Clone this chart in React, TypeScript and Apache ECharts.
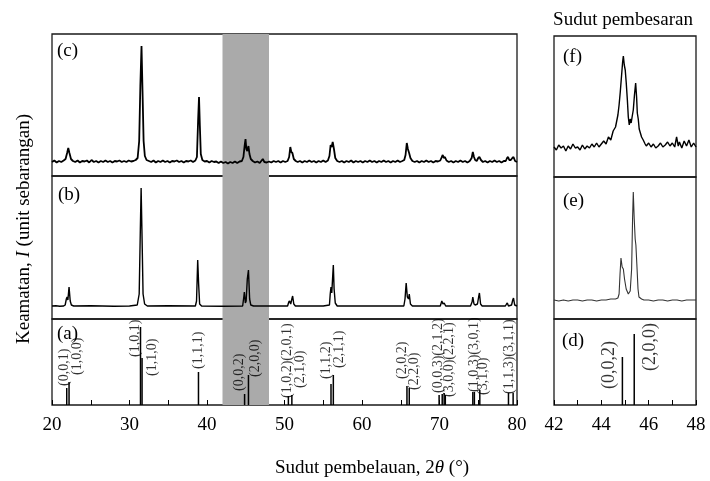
import React, { useEffect, useRef } from "react";
import * as echarts from "echarts";

// ---- Data ----
// Panel (c): measured pattern, 2θ vs intensity (arbitrary units)
const PATTERN_C: [number, number][] = [
  [20.0,14],[20.3,15.5],[20.6,13.5],[20.9,15],[21.2,14],[21.5,15.5],[21.75,17],[21.95,23],[22.1,28],[22.25,23],[22.45,17],[22.7,15],[23.0,14],[23.3,15.5],[23.6,13.5],[23.9,15],[24.2,14.5],[24.5,15.5],[24.8,13.5],[25.1,16],[25.4,14],[25.7,15],[26.0,13.5],[26.3,15],[26.6,14],[26.9,15.5],[27.2,14],[27.5,15],[27.8,13.5],[28.1,15],[28.4,14.5],[28.7,15.5],[29.0,14],[29.3,15],[29.6,14],[29.9,15.5],[30.2,14.5],[30.5,15],[30.8,16],[31.05,18],[31.25,35],[31.4,90],[31.55,130],[31.68,85],[31.82,35],[31.98,20],[32.2,16],[32.5,15],[32.8,14],[33.1,15.5],[33.4,13.5],[33.7,15],[34.0,14],[34.3,15.5],[34.6,14],[34.9,15],[35.2,13.5],[35.5,15],[35.8,14.5],[36.1,15.5],[36.4,14],[36.7,15],[37.0,13.5],[37.3,15],[37.6,14.5],[37.9,15.5],[38.2,14],[38.5,15.5],[38.7,19],[38.85,55],[38.97,79],[39.08,50],[39.2,22],[39.4,16],[39.7,14.5],[40.0,15],[40.3,13.5],[40.6,15],[40.9,14],[41.2,14.5],[41.5,13],[41.8,14.5],[42.1,13],[42.4,14],[42.7,12.5],[43.0,14],[43.3,13],[43.6,14.5],[43.9,13],[44.2,14.5],[44.5,15],[44.7,19],[44.85,30],[44.97,37],[45.08,27],[45.2,25],[45.35,30],[45.48,22],[45.65,17],[45.9,15],[46.2,13.5],[46.5,14.5],[46.8,13],[47.0,15],[47.2,17],[47.4,14],[47.7,13.5],[48.0,14.5],[48.3,13.5],[48.6,15],[48.9,14],[49.2,15],[49.5,13.5],[49.8,15],[50.1,14],[50.4,15],[50.6,19],[50.75,29],[50.88,24],[51.02,23],[51.2,17],[51.45,15],[51.7,14],[52.0,15],[52.3,13.5],[52.6,15],[52.9,14],[53.2,15.5],[53.5,14],[53.8,15],[54.1,13.5],[54.4,15],[54.7,14],[55.0,15.5],[55.3,14],[55.6,15.5],[55.8,20],[55.95,31],[56.08,29],[56.22,34],[56.38,27],[56.55,18],[56.8,15],[57.1,14],[57.4,15],[57.7,13.5],[58.0,15],[58.3,14],[58.6,15.5],[58.9,13.5],[59.2,15],[59.5,14],[59.8,15],[60.1,13.5],[60.4,15],[60.7,14],[61.0,15.5],[61.3,14],[61.6,15],[61.9,13.5],[62.2,15],[62.5,14],[62.8,15.5],[63.1,14],[63.4,15],[63.7,13.5],[64.0,15],[64.3,14],[64.6,15.5],[64.9,14],[65.2,15],[65.45,16],[65.62,21],[65.78,33],[65.92,27],[66.08,23],[66.25,18],[66.5,15],[66.8,14],[67.1,15],[67.4,13.5],[67.7,15],[68.0,14],[68.3,15.5],[68.6,14],[68.9,15],[69.2,13.5],[69.5,15],[69.8,14.5],[70.1,15.5],[70.3,19],[70.42,21],[70.55,18],[70.7,19],[70.9,15.5],[71.2,14],[71.5,15],[71.8,13.5],[72.1,15],[72.4,14],[72.7,15.5],[73.0,14],[73.3,15],[73.6,13.5],[73.9,15],[74.15,18],[74.3,24],[74.45,19],[74.6,16],[74.8,15],[75.0,18],[75.15,19],[75.35,16],[75.6,14],[75.9,15],[76.2,13.5],[76.5,15],[76.8,14],[77.1,15.5],[77.4,14],[77.7,15],[78.0,13.5],[78.3,15],[78.55,15],[78.72,18],[78.85,19],[79.0,16],[79.2,16],[79.4,18],[79.55,19],[79.75,15],[80.0,14]
];

// Panel (b): measured pattern
const PATTERN_B: [number, number][] = [
  [20,13],[20.5,13.2],[21,12.8],[21.5,13],[21.7,14],[21.85,20],[21.95,22],[22.05,19],[22.2,32],[22.35,18],[22.5,14],[22.8,13],[25,13.2],[28,12.8],[30,13],[31.0,14],[31.25,25],[31.4,90],[31.5,131],[31.6,90],[31.75,25],[31.95,15],[32.3,13],[35,13.2],[38.5,13],[38.65,18],[38.8,59],[38.92,35],[39.05,15],[39.3,13],[42,12.8],[44.6,13],[44.75,22],[44.82,27],[44.95,16],[45.05,18],[45.2,40],[45.35,49],[45.5,20],[45.65,14],[46,13],[50,13],[50.4,13],[50.55,17],[50.65,18],[50.8,15],[50.95,20],[51.05,23],[51.2,15],[51.4,13],[55,13],[55.8,14],[55.9,25],[56.0,32],[56.1,26],[56.2,40],[56.3,54],[56.4,30],[56.55,16],[56.8,13],[60,13],[65.4,13],[65.55,20],[65.7,36],[65.85,22],[66.0,20],[66.1,25],[66.25,15],[66.5,13],[70.1,13],[70.3,18],[70.45,15],[70.6,16],[70.8,13],[74.0,13],[74.2,17],[74.3,22],[74.45,15],[74.6,14],[74.9,15],[75.05,22],[75.15,26],[75.3,15],[75.5,13],[78.5,13],[78.65,15],[78.75,16],[78.9,13],[79.3,14],[79.45,19],[79.55,21],[79.7,14],[80,13]
];

// Panel (a): reference reflections [2θ, relative intensity]
const REF_LINES: [number, number][] = [
  [21.9,17],[22.2,23],[31.42,78],[31.62,47],[38.9,33],[44.85,11],[45.35,30],[50.5,9],[50.95,10],[56.0,21],[56.3,30],[65.8,19],[66.1,17],[69.95,10],[70.35,11],[70.6,12],[70.75,10],[74.3,13],[74.5,13],[75.2,15],[78.9,12],[79.5,12]
];
// Labels for reference reflections: [text, 2θ of label centre, intensity at label bottom]
const REF_LABEL_TEXT: string[] = [
  "(0,0,1)","(1,0,0)","(1,0,1)","(1,1,0)","(1,1,1)","(0,0,2)","(2,0,0)","(1,0,2)(2,0,1)","(2,1,0)","(1,1,2)","(2,1,1)","(2,0,2)","(2,2,0)","(0,0,3)(2,1,2)","(3,0,0)(2,2,1)","(1,0,3)(3,0,1)","(3,1,0)","(1,1,3)(3,1,1)"
];
const REF_LABEL_POS: [number, number][] = [
  [21.46,19],[23.19,30],[30.62,48],[32.86,29],[38.8,36],[44.04,14],[46.19,28],[50.3,7],[51.9,17],[55.35,26],[56.94,37],[65.12,26],[66.62,15],[69.72,12],[71.14,8],[74.36,13],[75.57,10],[78.84,11]
];

// Magnified panels (42–48°)
const PATTERN_F: [number, number][] = [
  [42.0,30],[42.1,27],[42.2,32],[42.3,29],[42.4,31],[42.5,26],[42.6,31],[42.7,28],[42.8,33],[42.9,29],[43.0,30],[43.1,27],[43.2,32],[43.3,28],[43.4,31],[43.5,29],[43.6,33],[43.7,30],[43.8,34],[43.9,30],[44.0,33],[44.1,36],[44.2,33],[44.3,40],[44.4,37],[44.5,46],[44.6,50],[44.65,56],[44.7,62],[44.75,72],[44.8,85],[44.85,100],[44.9,115],[44.93,121],[44.97,112],[45.01,107],[45.05,95],[45.1,77],[45.14,60],[45.18,52],[45.22,58],[45.26,54],[45.3,60],[45.35,67],[45.4,82],[45.45,94],[45.49,80],[45.52,64],[45.56,58],[45.6,48],[45.65,44],[45.7,40],[45.77,37],[45.85,33],[45.9,31],[46.0,34],[46.1,30],[46.2,33],[46.3,29],[46.4,31],[46.5,34],[46.6,30],[46.7,32],[46.8,35],[46.9,31],[47.0,34],[47.1,30],[47.18,40],[47.25,31],[47.3,35],[47.4,29],[47.5,36],[47.6,31],[47.7,37],[47.8,30],[47.9,34],[48.0,30]
];
const PATTERN_E: [number, number][] = [
  [42.0,19],[42.2,18],[42.4,19],[42.6,18],[42.8,19],[43.0,19],[43.2,18],[43.4,19],[43.6,19],[43.8,18],[44.0,19],[44.2,19],[44.4,20],[44.6,20],[44.7,21],[44.75,25],[44.79,45],[44.83,61],[44.88,52],[44.93,50],[44.98,40],[45.05,30],[45.14,25],[45.22,28],[45.28,50],[45.32,100],[45.35,127],[45.39,100],[45.43,80],[45.46,74],[45.5,55],[45.55,30],[45.59,22],[45.7,20],[45.8,19],[46.0,19],[46.2,18],[46.4,19],[46.6,19],[46.8,18],[47.0,19],[47.2,19],[47.4,18],[47.6,19],[47.8,19],[48.0,19]
];
const REF_LINES_D: [number, number][] = [[44.89,48],[45.39,71]];
const REF_LABELS_D_TEXT: string[] = ["(0,0,2)","(2,0,0)"];
const REF_LABELS_D_POS: [number, number][] = [[44.29,16],[46.03,34]];

const MAIN_TICK_LABELS = [20, 30, 40, 50, 60, 70, 80];
const ZOOM_TICK_LABELS = [42, 44, 46, 48];

const FONT = "Liberation Serif";

export default function App() {
  const ref = useRef<HTMLDivElement>(null);
  useEffect(() => {
    if (!ref.current) return;
    const chart = echarts.init(ref.current, undefined, { renderer: "svg" });

    const border = { show: true, borderColor: "#1a1a1a", borderWidth: 1.3, backgroundColor: "transparent" };
    const grids = [
      { left: 52, width: 465, top: 34, height: 142, ...border },
      { left: 52, width: 465, top: 176, height: 143, ...border },
      { left: 52, width: 465, top: 319, height: 86, ...border },
      { left: 554, width: 142, top: 36, height: 141, ...border },
      { left: 554, width: 142, top: 177, height: 142, ...border },
      { left: 554, width: 142, top: 319, height: 86, ...border },
    ];
    const hidden = (min: number, max: number, gi: number) => ({
      type: "value", gridIndex: gi, min, max, show: false, splitLine: { show: false },
    });
    const bottomAxis = (min: number, max: number, interval: number, gi: number, labels: number[]) => ({
      type: "value", gridIndex: gi, min, max, interval,
      axisLine: { show: false },
      axisTick: { show: true, inside: true, length: 5, lineStyle: { color: "#000", width: 1 } },
      splitLine: { show: false },
      axisLabel: {
        color: "#000", fontFamily: FONT, fontSize: 19, margin: 9,
        formatter: (v: number) => (labels.indexOf(v) >= 0 ? String(v) : ""),
      },
    });
    const xAxis = [
      hidden(20, 80, 0), hidden(20, 80, 1), bottomAxis(20, 80, 5, 2, MAIN_TICK_LABELS),
      hidden(42, 48, 3), hidden(42, 48, 4), bottomAxis(42, 48, 1, 5, ZOOM_TICK_LABELS),
    ];
    const yAxis = [
      hidden(0, 142, 0), hidden(0, 143, 1), hidden(0, 86, 2),
      hidden(0, 141, 3), hidden(0, 142, 4), hidden(0, 86, 5),
    ];
    const band = {
      silent: true,
      itemStyle: { color: "#aaaaaa" },
      data: [[{ xAxis: 42 }, { xAxis: 48 }]],
    };
    const labelSeries = (texts: string[], pos: [number, number][], gi: number, size: number) => ({
      type: "scatter", xAxisIndex: gi, yAxisIndex: gi, symbolSize: 0, silent: true, z: 5,
      data: pos.map((p, i) => ({
        value: p,
        label: {
          show: true, formatter: texts[i], rotate: 90, position: [0, 0],
          align: "left", verticalAlign: "middle",
          fontFamily: FONT, fontSize: size, color: "#000",
        },
      })),
    });

    chart.setOption({
      animation: false,
      grid: grids,
      xAxis, yAxis,
      series: [
        { type: "line", xAxisIndex: 0, yAxisIndex: 0, data: PATTERN_C, symbol: "none", lineStyle: { color: "#000", width: 1.8 }, markArea: band },
        { type: "line", xAxisIndex: 1, yAxisIndex: 1, data: PATTERN_B, symbol: "none", lineStyle: { color: "#000", width: 1.4 }, markArea: band },
        { type: "bar", xAxisIndex: 2, yAxisIndex: 2, data: REF_LINES, barWidth: 1.5, itemStyle: { color: "#000" }, markArea: band },
        labelSeries(REF_LABEL_TEXT, REF_LABEL_POS, 2, 14),
        { type: "line", xAxisIndex: 3, yAxisIndex: 3, data: PATTERN_F, symbol: "none", lineStyle: { color: "#000", width: 1.4 } },
        { type: "line", xAxisIndex: 4, yAxisIndex: 4, data: PATTERN_E, symbol: "none", lineStyle: { color: "#333", width: 1.1 } },
        { type: "bar", xAxisIndex: 5, yAxisIndex: 5, data: REF_LINES_D, barWidth: 1.5, itemStyle: { color: "#000" } },
        labelSeries(REF_LABELS_D_TEXT, REF_LABELS_D_POS, 5, 18),
      ],
      graphic: [
        ...[
          ["(c)", 57, 40], ["(b)", 58, 184], ["(a)", 57, 323],
          ["(f)", 563, 46], ["(e)", 563, 190], ["(d)", 562, 330],
        ].map(([t, x, y]) => ({
          type: "text", left: x as number, top: y as number,
          style: { text: t as string, fontFamily: FONT, fontSize: 19, fill: "#000" },
        })),
        {
          type: "text", x: 623, y: 18,
          style: { text: "Sudut pembesaran", fontFamily: FONT, fontSize: 19, fill: "#000", align: "center", verticalAlign: "middle" },
        },
        {
          type: "text", x: 372, y: 466,
          style: {
            text: "Sudut pembelauan, 2{i|θ} (°)", fontFamily: FONT, fontSize: 19, fill: "#000",
            align: "center", verticalAlign: "middle",
            rich: { i: { fontFamily: FONT, fontSize: 19, fontStyle: "italic", fill: "#000" } },
          },
        },
        {
          type: "text", x: 22, y: 229, rotation: Math.PI / 2,
          style: {
            text: "Keamatan, {i|I} (unit sebarangan)", fontFamily: FONT, fontSize: 19, fill: "#000",
            align: "center", verticalAlign: "middle",
            rich: { i: { fontFamily: FONT, fontSize: 19, fontStyle: "italic", fill: "#000" } },
          },
        },
      ],
    });
    return () => chart.dispose();
  }, []);
  return <div ref={ref} style={{ position: "fixed", left: 0, top: 0, width: 710, height: 481 }} />;
}
